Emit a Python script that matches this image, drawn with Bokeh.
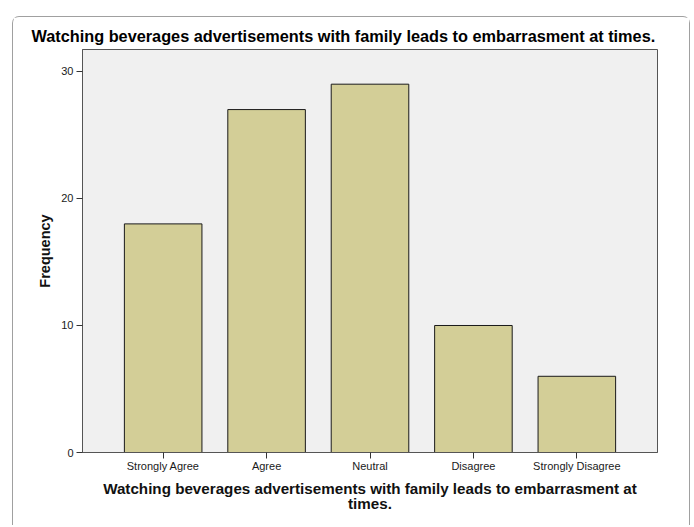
from bokeh.plotting import figure
from bokeh.models import FactorRange, Range1d, FixedTicker
from bokeh.layouts import column
from bokeh.embed import file_html
from bokeh.resources import INLINE

categories = ["Strongly Agree", "Agree", "Neutral", "Disagree", "Strongly Disagree"]
frequency = [18, 27, 29, 10, 6]
y_ticks = [0, 10, 20, 30]
title_text = "Watching beverages advertisements with family leads to embarrasment at times."
x_label = "Watching beverages advertisements with family leads to embarrasment at\ntimes."
y_label = "Frequency"

FONT = "Liberation Sans"

p = figure(
    width=676, height=508,
    x_range=FactorRange(factors=categories, range_padding=0.112),
    y_range=Range1d(0, 31.73),
    output_backend="svg", toolbar_location=None,
    min_border_left=69, min_border_right=32, min_border_top=32, min_border_bottom=73,
    background_fill_color="#F0F0F0", border_fill_color="white",
    outline_line_color="#555555", outline_line_width=1,
)

p.title.text = title_text
p.title.align = "left"
p.title.offset = -51
p.title.standoff = 9
p.title.text_font = FONT
p.title.text_font_style = "bold"
p.title.text_font_size = "16.3px"
p.title.text_color = "#000000"

p.vbar(x=categories, top=frequency, width=0.75,
       fill_color="#D3CE97", line_color="#1a1a1a", line_width=1)

p.xgrid.visible = False
p.ygrid.visible = False

for ax in (p.xaxis[0], p.yaxis[0]):
    ax.axis_line_color = "#555555"
    ax.major_tick_line_color = "#333333"
    ax.major_tick_in = 0
    ax.major_tick_out = 6
    ax.minor_tick_line_color = None
    ax.major_label_text_font = FONT
    ax.major_label_text_font_size = "11px"
    ax.major_label_text_color = "#1a1a1a"
    ax.axis_label_text_font = FONT
    ax.axis_label_text_font_style = "bold"
    ax.axis_label_text_color = "#111111"

p.yaxis.ticker = FixedTicker(ticks=y_ticks)
p.yaxis.major_label_standoff = 3
p.yaxis.axis_label = y_label
p.yaxis.axis_label_standoff = 5
p.yaxis.axis_label_text_font_size = "14.5px"

p.xaxis.major_label_standoff = 1
p.xaxis.axis_label = x_label
p.xaxis.axis_label_standoff = 5
p.xaxis.axis_label_text_font_size = "15.2px"
p.xaxis.axis_label_text_line_height = 0.9

# outer rounded frame around the chart (open at the bottom, which is cut off)
layout = column(p, margin=(16, 0, 0, 12),
                styles={"border": "1px solid #a0a0a0", "border-bottom": "none",
                        "border-radius": "7px 7px 0 0"})

open("out.html", "w").write(file_html(layout, INLINE))
